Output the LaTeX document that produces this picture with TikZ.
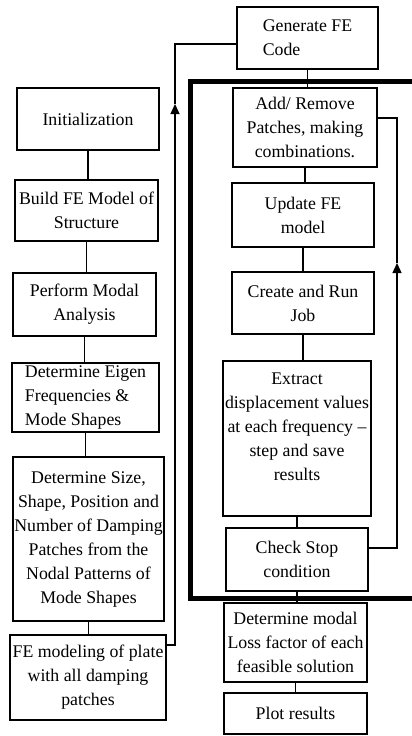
\documentclass[tikz,border=0pt]{standalone}
\usepackage{fontspec}
\setmainfont{Liberation Serif}
\usetikzlibrary{arrows.meta}
\tikzset{
  box/.style={draw,line width=1.5pt,inner sep=0pt,align=center,
    font=\fontsize{17.8}{24}\selectfont},
  link/.style={line width=1.3pt},
  uplink/.style={line width=1.3pt,-{Triangle[width=9pt,length=10pt]}},
}
\begin{document}
\begin{tikzpicture}[x=1pt,y=-1pt]
  \useasboundingbox (0,0) rectangle (412,736);
  % left column
  \node[box,minimum width=142pt,minimum height=62pt] (init) at (88,119) {Initialization};
  \node[box,minimum width=143pt,minimum height=61pt] (build) at (86.5,210.5) {Build FE Model of\\Structure};
  \node[box,minimum width=143pt,minimum height=63pt] (modal) at (84.5,304.5) {Perform Modal\\Analysis};
  \node[box,align=left,minimum width=147pt,minimum height=69pt] (eigen) at (85.5,397.5) {Determine Eigen\\Frequencies \&\\Mode Shapes};
  \node[box,minimum width=151pt,minimum height=164pt] (size) at (88.5,539) {Determine Size,\\Shape, Position and\\Number of Damping\\Patches from the\\Nodal Patterns of\\Mode Shapes};
  \node[box,minimum width=156pt,minimum height=85pt] (femod) at (88,677.5) {FE modeling of plate\\with all damping\\patches};
  % right column
  \node[box,align=left,minimum width=141pt,minimum height=62pt] (gen) at (307.5,38) {Generate FE\\Code};
  \node[box,minimum width=144pt,minimum height=79pt] (addrem) at (305,127.5) {Add/ Remove\\Patches, making\\combinations.};
  \node[box,minimum width=142pt,minimum height=64pt] (update) at (303,215) {Update FE\\model};
  \node[box,minimum width=142pt,minimum height=62pt] (job) at (303,303) {Create and Run\\Job};
  \node[box,minimum width=148pt,minimum height=155pt] (extract) at (297,438.5) {Extract\\displacement values\\at each frequency --\\step and save\\results\\~};
  \node[box,minimum width=142pt,minimum height=63pt] (check) at (297,559.5) {Check Stop\\condition};
  \node[box,minimum width=143pt,minimum height=79pt] (loss) at (295.5,642.5) {Determine modal\\Loss factor of each\\feasible solution};
  \node[box,minimum width=143pt,minimum height=41pt] (plot) at (295.5,713.5) {Plot results};
  % loop frame
  \draw[line width=5pt] (415,81) -- (190,81) -- (190,598) -- (415,598);
  % straight links
  \foreach \a/\b in {init/build,build/modal,modal/eigen,eigen/size,size/femod,
                     gen/addrem,addrem/update,update/job,job/extract,extract/check,check/loss,loss/plot}
    \draw[link] (\a.south) -- (\a.south |- \b.north);
  % feedback links
  \coordinate (ltip) at (175,104);
  \coordinate (rtip) at (397,263);
  \draw[uplink] ([yshift=32.5pt]femod.east) -| (ltip);
  \draw[link] (ltip) |- ([yshift=-6pt]gen.west);
  \draw[uplink] ([yshift=11.5pt]check.east) -| (rtip);
  \draw[link] (rtip) |- ([yshift=9.5pt]addrem.east);
\end{tikzpicture}
\end{document}
